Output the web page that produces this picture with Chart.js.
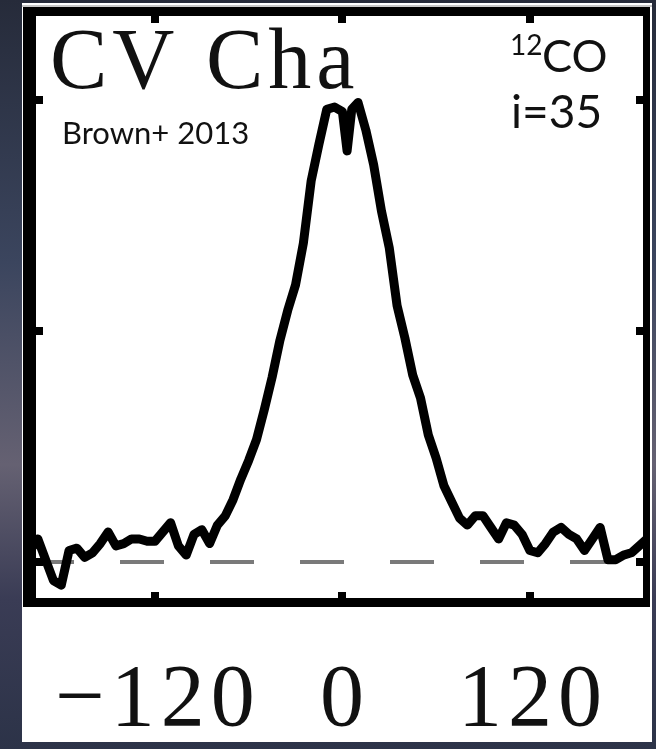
<!DOCTYPE html>
<html>
<head>
<meta charset="utf-8">
<title>CV Cha 12CO</title>
<script src="https://cdn.jsdelivr.net/npm/chart.js@4.4.1/dist/chart.umd.min.js"></script>
<style>
  html, body {
    margin: 0;
    padding: 0;
    width: 656px;
    height: 749px;
    overflow: hidden;
    background: linear-gradient(180deg, #262b3a 0%, #3b455e 35%, #656172 62%, #3a3c55 80%, #2c3348 100%);
  }
  #panel {
    position: absolute;
    left: 22px;
    top: 3px;
    width: 630px;
    height: 739px;
    background: #fff;
  }
</style>
</head>
<body>
<div id="panel"><canvas id="spectrum"></canvas></div>
<script>
// velocity channels (km/s)
const velocity = [
  -200, -195, -190, -185, -180, -175, -170, -165, -160, -155,
  -150, -145, -140, -135, -130, -125, -120, -115, -110, -105,
  -100, -95, -90, -85, -80, -75, -70, -65, -60, -55,
  -50, -45, -40, -35, -30, -25, -20, -15, -10, -5,
  0, 3, 6, 10, 15, 20, 25, 30, 35, 40,
  45, 50, 55, 60, 65, 70, 75, 80, 85, 90,
  95, 100, 105, 110, 115, 120, 125, 130, 135, 140,
  145, 150, 155, 160, 165, 170, 175, 180, 185, 190, 195
];

// 12CO line flux
const flux = [
  0.05, 0.10, 0.01, -0.08, -0.10, 0.05, 0.06, 0.02, 0.04, 0.08,
  0.13, 0.07, 0.08, 0.10, 0.10, 0.09, 0.09, 0.13, 0.17, 0.07,
  0.03, 0.12, 0.14, 0.08, 0.16, 0.20, 0.27, 0.36, 0.44, 0.53,
  0.66, 0.80, 0.96, 1.09, 1.20, 1.38, 1.65, 1.81, 1.96, 1.97,
  1.95, 1.78, 1.96, 1.99, 1.87, 1.72, 1.52, 1.36, 1.11, 0.97,
  0.81, 0.71, 0.55, 0.45, 0.33, 0.26, 0.19, 0.16, 0.20, 0.20,
  0.15, 0.10, 0.17, 0.16, 0.12, 0.05, 0.04, 0.08, 0.13, 0.15,
  0.12, 0.10, 0.05, 0.10, 0.15, 0.01, 0.01, 0.03, 0.04, 0.07, 0.10
];

const xTicks = [-120, 0, 120];
const xTickLabels = ['\u2212120', '0', '120'];
const yTicks = [0, 1, 2];
const zeroLevel = [0, 0];
const zeroRange = [-200, 195];

const serif = "'Liberation Serif', 'Times New Roman', serif";
const sans = "Lato, 'Open Sans', sans-serif";

// frame, inward ticks, axis numbers and annotations
const framePlugin = {
  id: 'frame',
  afterDatasetsDraw(chart) {
    const ctx = chart.ctx;
    const { left, right, top, bottom } = chart.chartArea;
    const xs = chart.scales.x;
    const ys = chart.scales.y;
    ctx.save();

    ctx.fillStyle = '#c8c8c8';
    ctx.fillRect(0, top - 5, chart.width, 2);

    ctx.fillStyle = '#000';
    ctx.fillRect(left - 7, top - 3, 13, bottom - top + 8);
    ctx.fillRect(left - 7, top - 3, right - left + 10, 9);
    ctx.fillRect(left - 7, bottom - 4, right - left + 10, 9);
    ctx.fillRect(right - 4, top - 3, 7, bottom - top + 8);

    xTicks.forEach((v, i) => {
      const px = Math.round(xs.getPixelForValue(v));
      ctx.fillStyle = '#000';
      ctx.fillRect(px - 4, bottom - 10, 8, 7);
      ctx.fillRect(px - 4, top + 5, 8, 8);
      ctx.font = '88px ' + serif;
      ctx.letterSpacing = '6px';
      ctx.textAlign = 'center';
      ctx.textBaseline = 'alphabetic';
      ctx.fillStyle = '#111';
      ctx.fillText(xTickLabels[i], px + 3, 722);
      ctx.letterSpacing = '0px';
    });
    ctx.fillStyle = '#000';
    yTicks.forEach(v => {
      const py = Math.round(ys.getPixelForValue(v));
      ctx.fillRect(left + 5, py - 4, 8, 8);
      ctx.fillRect(right - 11, py - 4, 8, 8);
    });

    ctx.fillStyle = '#111';
    ctx.textAlign = 'left';
    ctx.textBaseline = 'alphabetic';
    ctx.font = '86px ' + serif;
    ctx.letterSpacing = '5px';
    ctx.fillText('CV Cha', 28, 85);
    ctx.letterSpacing = '0px';

    ctx.font = '31px ' + sans;
    ctx.fillText('Brown+ 2013', 40, 141);

    ctx.font = '28px ' + sans;
    ctx.fillText('12', 488, 52);
    ctx.font = '45px ' + sans;
    ctx.fillText('CO', 520, 69);
    ctx.font = '46px ' + sans;
    ctx.fillText('i=35', 489, 125);

    ctx.restore();
  }
};

new Chart(document.getElementById('spectrum'), {
  type: 'line',
  data: {
    datasets: [
      {
        label: '12CO',
        data: velocity.map((v, i) => ({ x: v, y: flux[i] })),
        borderColor: '#000',
        borderWidth: 9,
        pointRadius: 0,
        tension: 0,
        borderJoinStyle: 'round',
        order: 1
      },
      {
        label: 'zero',
        data: zeroRange.map((v, i) => ({ x: v, y: zeroLevel[i] })),
        borderColor: '#7a7a7a',
        borderWidth: 4,
        borderDash: [44, 46],
        pointRadius: 0,
        order: 2
      }
    ]
  },
  options: {
    responsive: true,
    maintainAspectRatio: false,
    animation: false,
    events: [],
    layout: { padding: { left: 8, right: 5, top: 7, bottom: 140 } },
    plugins: {
      legend: { display: false },
      tooltip: { enabled: false }
    },
    scales: {
      x: { type: 'linear', min: -200, max: 195, display: false },
      y: { type: 'linear', min: -0.173, max: 2.39, display: false }
    }
  },
  plugins: [framePlugin]
});
</script>
</body>
</html>
